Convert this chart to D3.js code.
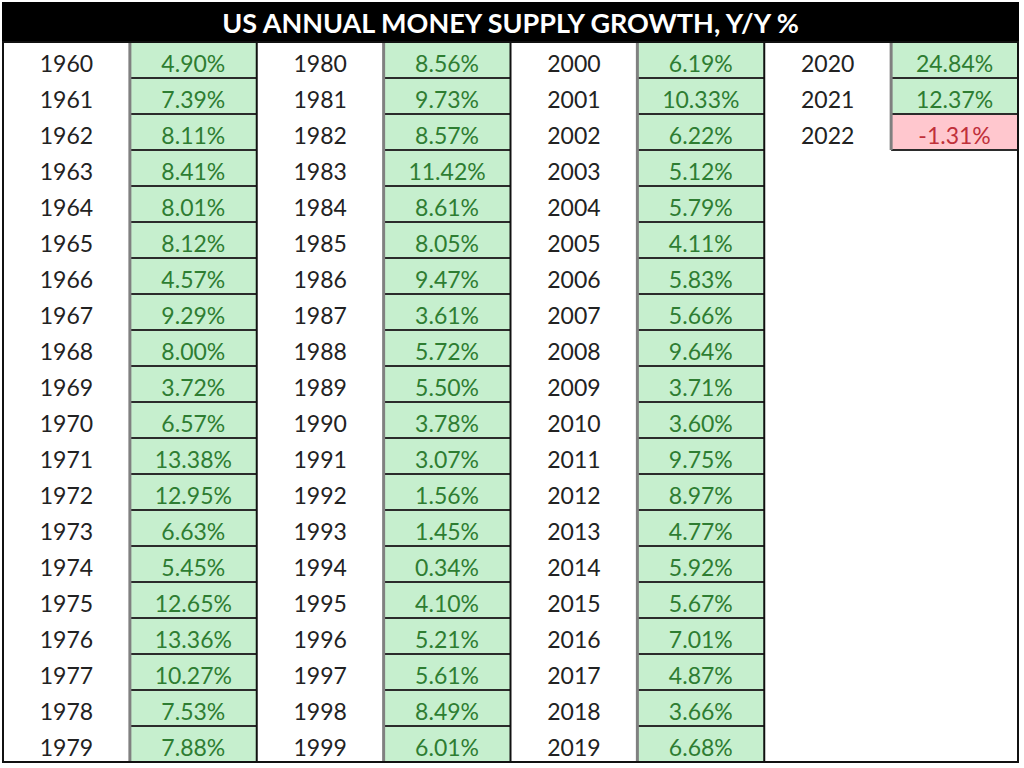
<!DOCTYPE html>
<html>
<head>
<meta charset="utf-8">
<script src="https://cdn.jsdelivr.net/npm/d3@7"></script>
<style>
  body { margin: 0; background: #fff; }
  svg { display: block; }
</style>
</head>
<body>
<div id="table"></div>
<script>
// chart data
var title = "US ANNUAL MONEY SUPPLY GROWTH, Y/Y %"
var years = d3.range(1960, 2023)
var growth = [
    4.90, 7.39, 8.11, 8.41, 8.01, 8.12, 4.57, 9.29, 8.00, 3.72,
    6.57, 13.38, 12.95, 6.63, 5.45, 12.65, 13.36, 10.27, 7.53, 7.88,
    8.56, 9.73, 8.57, 11.42, 8.61, 8.05, 9.47, 3.61, 5.72, 5.50,
    3.78, 3.07, 1.56, 1.45, 0.34, 4.10, 5.21, 5.61, 8.49, 6.01,
    6.19, 10.33, 6.22, 5.12, 5.79, 4.11, 5.83, 5.66, 9.64, 3.71,
    3.60, 9.75, 8.97, 4.77, 5.92, 5.67, 7.01, 4.87, 3.66, 6.68,
    24.84, 12.37, -1.31
]
var rowsPerBlock = 20

var width = 1024, height = 768
var tLeft = 3, tRight = 1018, tTop = 2, titleH = 40
var tBottom = 762

var svg = d3.select("#table").append("svg")
    .attr("width", width)
    .attr("height", height)

svg.append("rect").attr("width", width).attr("height", height).attr("fill", "#fff")

var cells = years.map((y, i) => ({
    year: y,
    value: growth[i],
    block: Math.floor(i / rowsPerBlock),
    row: i % rowsPerBlock
}))

var x = d3.scaleBand().domain(d3.range(8)).range([tLeft, tRight])
var yScale = d3.scaleBand().domain(d3.range(rowsPerBlock)).range([tTop + titleH, tBottom])

// title bar
svg.append("rect")
    .attr("x", tLeft - 1).attr("y", tTop)
    .attr("width", tRight - tLeft + 2).attr("height", titleH)
    .attr("fill", "#000")
svg.append("text")
    .attr("x", (tLeft + tRight) / 2)
    .attr("y", tTop + 31)
    .attr("text-anchor", "middle")
    .attr("fill", "#fff")
    .attr("font-family", "Lato, 'Open Sans', sans-serif")
    .attr("font-weight", "bold")
    .attr("font-size", 27)
    .text(title)

// value cell fills
var valX = d => x(d.block * 2 + 1)
svg.selectAll("rect.cell")
    .data(cells)
    .enter().append("rect")
    .attr("class", "cell")
    .attr("x", valX)
    .attr("y", d => yScale(d.row))
    .attr("width", x.bandwidth())
    .attr("height", yScale.bandwidth())
    .attr("fill", d => d.value < 0 ? "#ffc7ce" : "#c6efce")

// horizontal lines between value cells
svg.selectAll("line.h")
    .data(cells.filter(d => d.row < rowsPerBlock - 1))
    .enter().append("line")
    .attr("x1", valX)
    .attr("x2", d => valX(d) + x.bandwidth())
    .attr("y1", d => yScale(d.row) + yScale.bandwidth())
    .attr("y2", d => yScale(d.row) + yScale.bandwidth())
    .attr("stroke", "#2b2b2b")
    .attr("stroke-width", 2)

// grey left borders and black right borders of value columns
var blocks = d3.range(4).map(b => ({
    b: b,
    n: cells.filter(d => d.block == b).length
}))
svg.selectAll("line.vl")
    .data(blocks)
    .enter().append("line")
    .attr("x1", d => x(d.b * 2 + 1))
    .attr("x2", d => x(d.b * 2 + 1))
    .attr("y1", tTop + titleH)
    .attr("y2", d => yScale(d.n - 1) + yScale.bandwidth())
    .attr("stroke", "#808080")
    .attr("stroke-width", 3)
svg.selectAll("line.vr")
    .data(blocks.filter(d => d.b < 3))
    .enter().append("line")
    .attr("x1", d => x(d.b * 2 + 1) + x.bandwidth())
    .attr("x2", d => x(d.b * 2 + 1) + x.bandwidth())
    .attr("y1", tTop + titleH)
    .attr("y2", tBottom)
    .attr("stroke", "#111")
    .attr("stroke-width", 2)

// outer border
svg.append("rect")
    .attr("x", tLeft).attr("y", tTop + titleH)
    .attr("width", tRight - tLeft).attr("height", tBottom - tTop - titleH)
    .attr("fill", "none")
    .attr("stroke", "#111")
    .attr("stroke-width", 2)

var font = "Lato, 'Open Sans', sans-serif"

// year labels
svg.selectAll("text.year")
    .data(cells)
    .enter().append("text")
    .attr("class", "year")
    .attr("x", d => x(d.block * 2) + x.bandwidth() / 2)
    .attr("y", d => yScale(d.row) + 30)
    .attr("text-anchor", "middle")
    .attr("font-family", font)
    .attr("font-size", 23)
    .attr("fill", "#222")
    .text(d => d.year)

// values
svg.selectAll("text.val")
    .data(cells)
    .enter().append("text")
    .attr("class", "val")
    .attr("x", d => valX(d) + x.bandwidth() / 2)
    .attr("y", d => yScale(d.row) + 30)
    .attr("text-anchor", "middle")
    .attr("font-family", font)
    .attr("font-size", 23)
    .attr("fill", d => d.value < 0 ? "#c0303a" : "#2e7d32")
    .text(d => d.value.toFixed(2) + "%")
</script>
</body>
</html>
